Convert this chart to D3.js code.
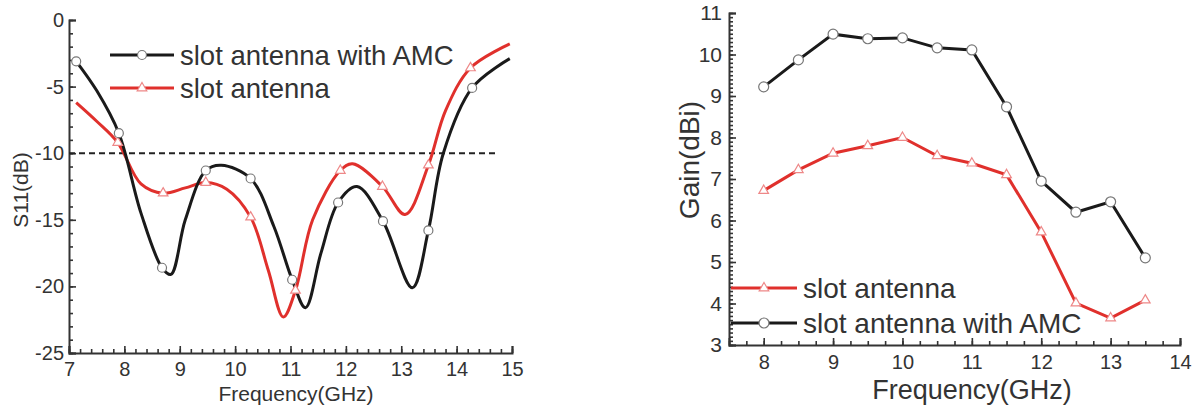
<!DOCTYPE html>
<html>
<head>
<meta charset="utf-8">
<script src="https://cdn.jsdelivr.net/npm/d3@7"></script>
<style>
  body { margin: 0; background: #fff; }
  svg text { font-family: Arial, "Liberation Sans", sans-serif; fill: #333; }
</style>
</head>
<body>
<svg id="chart" width="1193" height="408"></svg>
<script>
// ---- left panel: S11 ----
const s11Ticks = [0, -5, -10, -15, -20, -25];
const s11FreqTicks = [7, 8, 9, 10, 11, 12, 13, 14, 15];
// curve points [GHz, dB]
const amcS11 = [[7.13, -3.1], [7.5, -5.3], [7.9, -8.5], [8.3, -14.5], [8.68, -18.6], [8.84, -19.1], [9.1, -15], [9.47, -11.3],
  [9.75, -10.9], [10.28, -11.9], [10.7, -15.5], [11.03, -19.5], [11.27, -21.6], [11.55, -17.5], [11.86, -13.7], [12.2, -12.5],
  [12.67, -15.1], [13.2, -20.1], [13.49, -15.8], [13.76, -10], [14.28, -5.1], [14.96, -2.9]];
const slotS11 = [[7.13, -6.2], [7.5, -7.6], [7.88, -9.2], [8.3, -12.3], [8.7, -13.0], [9.1, -12.6], [9.47, -12.2], [9.85, -12.7],
  [10.28, -14.8], [10.6, -18.8], [10.87, -22.3], [11.09, -20.3], [11.4, -15], [11.9, -11.3], [12.12, -10.8], [12.66, -12.5],
  [13.07, -14.6], [13.49, -10.9], [13.8, -6.8], [14.25, -3.6], [14.96, -1.8]];
// marker positions
const amcS11Marks = [[7.13, -3.1], [7.9, -8.5], [8.68, -18.6], [9.47, -11.3], [10.28, -11.9], [11.03, -19.5], [11.86, -13.7], [12.67, -15.1], [13.49, -15.8], [14.28, -5.1]];
const slotS11Marks = [[7.88, -9.2], [8.7, -13.0], [9.47, -12.2], [10.28, -14.8], [11.09, -20.3], [11.9, -11.3], [12.66, -12.5], [13.49, -10.9], [14.25, -3.6]];

// ---- right panel: Gain ----
const gainFreq = [8, 8.5, 9, 9.5, 10, 10.5, 11, 11.5, 12, 12.5, 13, 13.5];
const amcGain = [9.22, 9.87, 10.49, 10.38, 10.4, 10.16, 10.11, 8.74, 6.95, 6.2, 6.45, 5.1];
const slotGain = [6.72, 7.22, 7.62, 7.8, 8.0, 7.56, 7.38, 7.1, 5.72, 4.01, 3.65, 4.08];
const gainTicks = [3, 4, 5, 6, 7, 8, 9, 10, 11];
const gainFreqTicks = [8, 9, 10, 11, 12, 13, 14];

const black = '#1a1a1a', red = '#e0302c';
const svg = d3.select('#chart');
const plain = d => String(d); // keep ASCII hyphen for negatives

function minorTicks(lo, hi, step) {
  return d3.range(Math.round((hi - lo) / step) + 1).map(i => lo + i * step);
}

function styleAxis(g) {
  g.selectAll('.domain').attr('stroke', '#333').attr('stroke-width', 2);
  g.selectAll('.tick line').attr('stroke', '#333').attr('stroke-width', 1.6);
}

// ================= Left =================
const xL = d3.scaleLinear().domain([7, 15]).range([69, 512]);
const yL = d3.scaleLinear().domain([-25, 0]).range([353, 20]);
const gL = svg.append('g');

gL.append('g').attr('transform', 'translate(0,353)')
  .call(d3.axisBottom(xL).tickValues(minorTicks(7, 15, 0.2)).tickSize(-4).tickFormat(''))
  .call(g => g.select('.domain').remove());
gL.append('g').attr('transform', 'translate(0,353)')
  .call(d3.axisBottom(xL).tickValues(s11FreqTicks).tickSize(-7).tickPadding(9).tickFormat(plain))
  .call(g => g.selectAll('text').attr('font-size', 20).attr('dy', '0.71em'));
gL.append('g').attr('transform', 'translate(69,0)')
  .call(d3.axisLeft(yL).tickValues(minorTicks(-25, 0, 1)).tickSize(-4).tickFormat(''))
  .call(g => g.select('.domain').remove());
gL.append('g').attr('transform', 'translate(69,0)')
  .call(d3.axisLeft(yL).tickValues(s11Ticks).tickSize(-7).tickPadding(5).tickFormat(plain))
  .call(g => g.selectAll('text').attr('font-size', 20));
styleAxis(gL);

gL.append('line').attr('x1', xL(7)).attr('x2', xL(14.75)).attr('y1', yL(-10)).attr('y2', yL(-10))
  .attr('stroke', '#222').attr('stroke-width', 2).attr('stroke-dasharray', '6,4');

const lineL = d3.line().x(d => xL(d[0])).y(d => yL(d[1])).curve(d3.curveCatmullRom.alpha(0.5));
gL.append('path').datum(slotS11).attr('d', lineL).attr('fill', 'none').attr('stroke', red).attr('stroke-width', 3);
gL.append('path').datum(amcS11).attr('d', lineL).attr('fill', 'none').attr('stroke', black).attr('stroke-width', 3);

const tri = d3.symbol().type(d3.symbolTriangle).size(40);
gL.selectAll('.tm').data(slotS11Marks).join('path')
  .attr('transform', d => `translate(${xL(d[0])},${yL(d[1])})`).attr('d', tri)
  .attr('fill', '#fff').attr('stroke', '#e88').attr('stroke-width', 1.2);
gL.selectAll('.cm').data(amcS11Marks).join('circle')
  .attr('cx', d => xL(d[0])).attr('cy', d => yL(d[1])).attr('r', 4.5)
  .attr('fill', '#fff').attr('stroke', '#777').attr('stroke-width', 1.2);

gL.append('text').attr('transform', 'translate(28,190) rotate(-90)').attr('text-anchor', 'middle')
  .attr('font-size', 21).text('S11(dB)');
gL.append('text').attr('x', 296).attr('y', 401).attr('text-anchor', 'middle')
  .attr('font-size', 21).text('Frequency(GHz)');

// left legend
const legL = [{ y: 55, c: black, m: 'c', t: 'slot antenna with AMC' }, { y: 88, c: red, m: 't', t: 'slot antenna' }];
legL.forEach(d => {
  gL.append('line').attr('x1', 110).attr('x2', 174).attr('y1', d.y).attr('y2', d.y).attr('stroke', d.c).attr('stroke-width', 3);
  if (d.m === 'c') gL.append('circle').attr('cx', 142).attr('cy', d.y).attr('r', 4.5).attr('fill', '#fff').attr('stroke', '#777').attr('stroke-width', 1.2);
  else gL.append('path').attr('transform', `translate(142,${d.y})`).attr('d', tri).attr('fill', '#fff').attr('stroke', '#e88').attr('stroke-width', 1.2);
  gL.append('text').attr('x', 180).attr('y', d.y + 10).attr('font-size', 27.5).text(d.t);
});

// ================= Right =================
const xR = d3.scaleLinear().domain([7.5, 14]).range([729, 1180]);
const yR = d3.scaleLinear().domain([3, 11]).range([345, 13]);
const gR = svg.append('g');

gR.append('g').attr('transform', 'translate(0,345)')
  .call(d3.axisBottom(xR).tickValues(minorTicks(7.5, 14, 0.25)).tickSize(-4).tickFormat(''))
  .call(g => g.select('.domain').remove());
gR.append('g').attr('transform', 'translate(0,345)')
  .call(d3.axisBottom(xR).tickValues(gainFreqTicks).tickSize(-7).tickPadding(10).tickFormat(plain))
  .call(g => g.selectAll('text').attr('font-size', 20).attr('dy', '0.71em'));
gR.append('g').attr('transform', 'translate(729,0)')
  .call(d3.axisLeft(yR).tickValues(minorTicks(3, 11, 0.1)).tickSize(-4).tickFormat(''))
  .call(g => g.select('.domain').remove());
gR.append('g').attr('transform', 'translate(729,0)')
  .call(d3.axisLeft(yR).tickValues(gainTicks).tickSize(-7).tickPadding(7).tickFormat(plain))
  .call(g => g.selectAll('text').attr('font-size', 21));
styleAxis(gR);

const lineR = d3.line().x((d, i) => xR(gainFreq[i])).y(d => yR(d));
gR.append('path').datum(slotGain).attr('d', lineR).attr('fill', 'none').attr('stroke', red).attr('stroke-width', 3);
gR.append('path').datum(amcGain).attr('d', lineR).attr('fill', 'none').attr('stroke', black).attr('stroke-width', 3);
gR.selectAll('.tm').data(slotGain).join('path')
  .attr('transform', (d, i) => `translate(${xR(gainFreq[i])},${yR(d)})`).attr('d', tri)
  .attr('fill', '#fff').attr('stroke', '#e88').attr('stroke-width', 1.2);
gR.selectAll('.cm').data(amcGain).join('circle')
  .attr('cx', (d, i) => xR(gainFreq[i])).attr('cy', d => yR(d)).attr('r', 5)
  .attr('fill', '#fff').attr('stroke', '#777').attr('stroke-width', 1.2);

gR.append('text').attr('transform', 'translate(699,160) rotate(-90)').attr('text-anchor', 'middle')
  .attr('font-size', 28).text('Gain(dBi)');
gR.append('text').attr('x', 972).attr('y', 399).attr('text-anchor', 'middle')
  .attr('font-size', 27).text('Frequency(GHz)');

const legR = [{ y: 288, c: red, m: 't', t: 'slot antenna' }, { y: 323, c: black, m: 'c', t: 'slot antenna with AMC' }];
legR.forEach(d => {
  gR.append('line').attr('x1', 731).attr('x2', 797).attr('y1', d.y).attr('y2', d.y).attr('stroke', d.c).attr('stroke-width', 3);
  if (d.m === 'c') gR.append('circle').attr('cx', 764).attr('cy', d.y).attr('r', 5).attr('fill', '#fff').attr('stroke', '#777').attr('stroke-width', 1.2);
  else gR.append('path').attr('transform', `translate(764,${d.y})`).attr('d', tri).attr('fill', '#fff').attr('stroke', '#e88').attr('stroke-width', 1.2);
  gR.append('text').attr('x', 803).attr('y', d.y + 10).attr('font-size', 28).text(d.t);
});
</script>
</body>
</html>
